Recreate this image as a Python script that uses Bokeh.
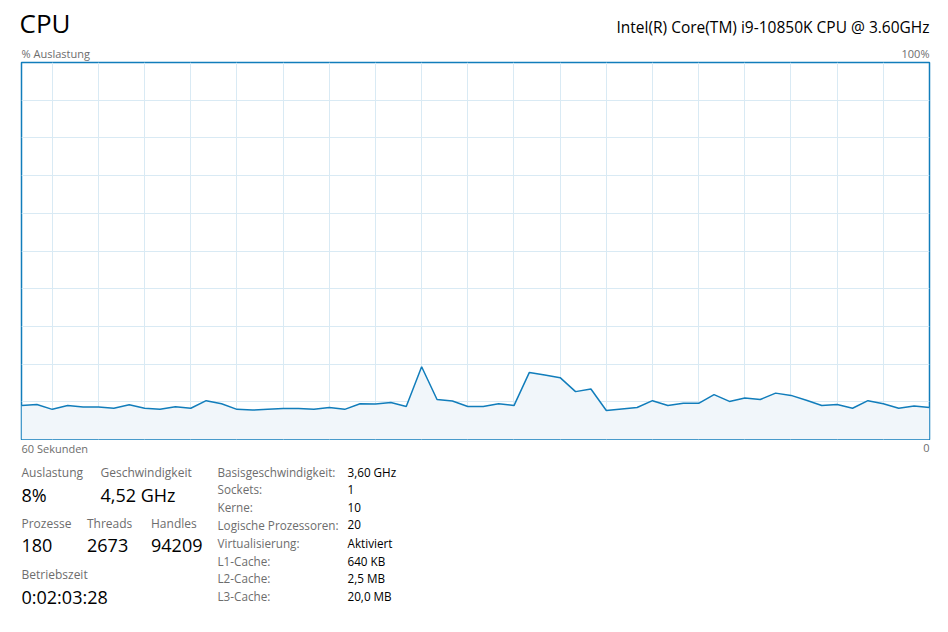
from bokeh.plotting import figure
from bokeh.models import Range1d, FixedTicker, Label
from bokeh.layouts import column
from bokeh.embed import file_html
from bokeh.resources import INLINE

# ---- data ----
seconds_ago = [59, 58, 57, 56, 55, 54, 53, 52, 51, 50,
               49, 48, 47, 46, 45, 44, 43, 42, 41, 40,
               39, 38, 37, 36, 35, 34, 33, 32, 31, 30,
               29, 28, 27, 26, 25, 24, 23, 22, 21, 20,
               19, 18, 17, 16, 15, 14, 13, 12, 11, 10,
               9, 8, 7, 6, 5, 4, 3, 2, 1, 0]
cpu_usage = [9.0, 9.3, 8.0, 9.0, 8.6, 8.6, 8.3, 9.2, 8.3, 8.0,
             8.7, 8.3, 10.3, 9.5, 8.0, 7.8, 8.0, 8.2, 8.2, 8.0,
             8.5, 8.0, 9.5, 9.4, 9.8, 8.75, 19.3, 10.6, 10.2, 8.75,
             8.75, 9.5, 9.0, 17.8, 17.1, 16.4, 12.7, 13.4, 7.7, 8.1,
             8.5, 10.3, 9.0, 9.6, 9.6, 11.9, 10.1, 11.0, 10.6, 12.3,
             11.7, 10.4, 9.0, 9.3, 8.3, 10.3, 9.5, 8.3, 8.9, 8.5]
x_grid_ticks = [57, 54, 51, 48, 45, 42, 39, 36, 33, 30, 27, 24, 21, 18, 15, 12, 9, 6, 3]
y_grid_ticks = [10, 20, 30, 40, 50, 60, 70, 80, 90]

title = "CPU"
cpu_name = "Intel(R) Core(TM) i9-10850K CPU @ 3.60GHz"
y_label, y_max_label = "% Auslastung", "100%"
x_label, x_min_label = "60 Sekunden", "0"

stats_left = [("Auslastung", "8%"), ("Geschwindigkeit", "4,52 GHz")]
stats_mid = [("Prozesse", "180"), ("Threads", "2673"), ("Handles", "94209")]
stats_uptime = ("Betriebszeit", "0:02:03:28")
info_labels = ["Basisgeschwindigkeit:", "Sockets:", "Kerne:", "Logische Prozessoren:",
               "Virtualisierung:", "L1-Cache:", "L2-Cache:", "L3-Cache:"]
info_values = ["3,60 GHz", "1", "10", "20", "Aktiviert", "640 KB", "2,5 MB", "20,0 MB"]

# ---- layout ----
W = 940
HEAD_H = 61          # image rows 0..61
GRAPH_H = 379        # image rows 61..440 (frame 62..439)
FOOT_H = 184         # image rows 440..624
FONT = "Open Sans"
GRAY = "#6d6d6d"
BLACK = "#000000"
BLUE = "#117dbb"
BASE_SHIFT = 0.4     # empirical baseline correction (fraction of font size)


def text_fig(h):
    f = figure(width=W, height=h, output_backend="svg", toolbar_location=None,
               x_axis_type=None, y_axis_type=None, frame_align=False,
               x_range=Range1d(0, W), y_range=Range1d(0, h),
               min_border=0, min_border_left=0, min_border_right=0,
               min_border_top=0, min_border_bottom=0)
    f.outline_line_color = None
    f.background_fill_color = "white"
    f.border_fill_color = "white"
    return f


def txt(f, top, h, text, x_img, base_img, size, color=GRAY, align="left"):
    base = base_img - BASE_SHIFT * size
    f.add_layout(Label(x=x_img, y=h - (base - top),
                       x_units="screen", y_units="screen", text=text,
                       text_font=FONT, text_font_size=f"{size}px", text_color=color,
                       text_align=align, text_baseline="alphabetic"))


# header
head = text_fig(HEAD_H)
txt(head, 0, HEAD_H, title, 19, 33, 26, BLACK)
txt(head, 0, HEAD_H, cpu_name, 929, 33, 15.5, BLACK, "right")
txt(head, 0, HEAD_H, y_label, 21, 57, 11)
txt(head, 0, HEAD_H, y_max_label, 929, 57, 11, GRAY, "right")

# graph
p = figure(width=W, height=GRAPH_H, output_backend="svg", toolbar_location=None,
           x_axis_location=None, y_axis_location=None, frame_align=False,
           x_range=Range1d(59, 0), y_range=Range1d(0, 100),
           min_border_left=21, min_border_right=W - 929, min_border_top=1, min_border_bottom=1)
p.xgrid.ticker = FixedTicker(ticks=x_grid_ticks)
p.ygrid.ticker = FixedTicker(ticks=y_grid_ticks)
p.xgrid.grid_line_color = "#d9eaf4"
p.ygrid.grid_line_color = "#d9eaf4"
p.xgrid.grid_line_width = 1
p.ygrid.grid_line_width = 1
p.outline_line_color = BLUE
p.outline_line_width = 1.5
p.outline_line_alpha = 1
p.background_fill_color = "white"
p.border_fill_color = "white"
p.varea(x=seconds_ago, y1=[0] * len(cpu_usage), y2=cpu_usage, fill_color="#f1f6fa")
p.line(x=seconds_ago, y=cpu_usage, line_color=BLUE, line_width=1.5)

# footer
T = HEAD_H + GRAPH_H
foot = text_fig(FOOT_H)
txt(foot, T, FOOT_H, x_label, 21, 452, 11)
txt(foot, T, FOOT_H, x_min_label, 929, 452, 11, GRAY, "right")
for (lab, val), xx in zip(stats_left, [21, 100]):
    txt(foot, T, FOOT_H, lab, xx, 476.7, 12)
    txt(foot, T, FOOT_H, val, xx, 502, 18, BLACK)
for (lab, val), xx in zip(stats_mid, [21, 86.5, 150.5]):
    txt(foot, T, FOOT_H, lab, xx, 527.7, 12)
    txt(foot, T, FOOT_H, val, xx, 552.5, 18, BLACK)
txt(foot, T, FOOT_H, stats_uptime[0], 21, 578.3, 12)
txt(foot, T, FOOT_H, stats_uptime[1], 21, 603.5, 18, BLACK)
for k, (lab, val) in enumerate(zip(info_labels, info_values)):
    b = 475.7 + 17.8 * k
    txt(foot, T, FOOT_H, lab, 217, b, 11.7)
    txt(foot, T, FOOT_H, val, 347, b, 11.7, BLACK)

layout = column(head, p, foot, spacing=0)
open("out.html", "w").write(file_html(layout, INLINE))
